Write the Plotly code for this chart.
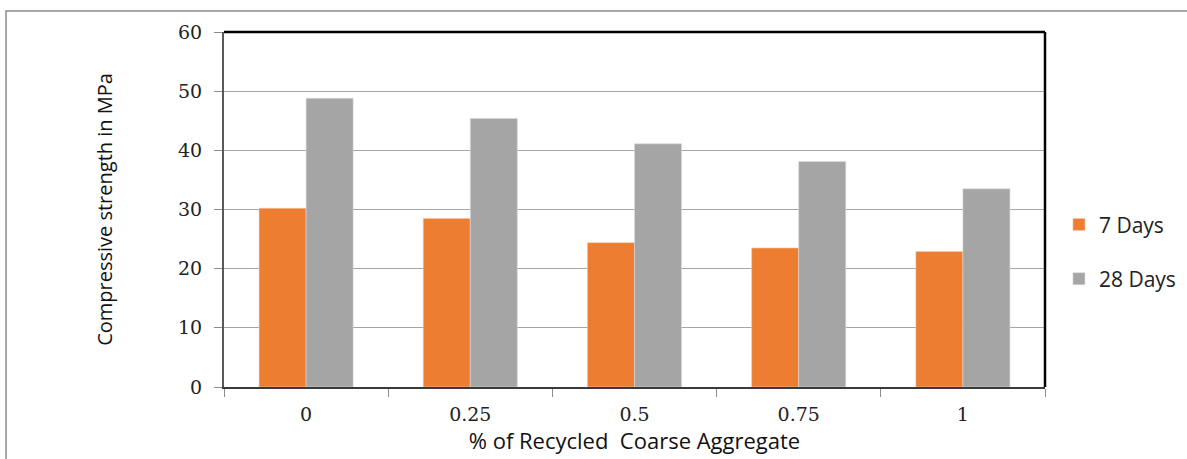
import plotly.graph_objects as go

# Replacement level of recycled coarse aggregate
categories = ["0", "0.25", "0.5", "0.75", "1"]
# Compressive strength (MPa)
strength_7_days = [30.2, 28.5, 24.4, 23.5, 22.9]
strength_28_days = [48.8, 45.4, 41.1, 38.1, 33.5]
y_ticks = [0, 10, 20, 30, 40, 50, 60]

ORANGE = "#ED7D31"
GREY = "#A5A5A5"
SANS = "Open Sans, Noto Sans, sans-serif"
SERIF = "DejaVu Serif, Liberation Serif, serif"

fig = go.Figure()
fig.add_trace(go.Bar(
    x=categories, y=strength_7_days, name="7 Days",
    marker=dict(color=ORANGE, line=dict(color="#F2C9AE", width=0.6)),
    legendgroup="a",
))
fig.add_trace(go.Bar(
    x=categories, y=strength_28_days, name="28 Days",
    marker=dict(color=GREY, line=dict(color="#DADADA", width=0.6)),
    legendgroup="b",
))

fig.update_layout(
    width=1187, height=459,
    margin=dict(l=224, r=142, t=32, b=72, autoexpand=False),
    paper_bgcolor="white", plot_bgcolor="white",
    barmode="group", bargap=0.427, bargroupgap=0,
    showlegend=True,
    legend=dict(
        x=1.017, y=0.381, xanchor="left", yanchor="middle",
        font=dict(family=SANS, size=21, color="#222222"),
        traceorder="grouped", tracegroupgap=24,
        itemwidth=30,
    ),
    xaxis=dict(
        type="category",
        tickson="boundaries", ticks="outside", ticklen=8, tickcolor="#8C8C8C",
        showline=True, linecolor="#3A3A3A", linewidth=2,
        tickfont=dict(family=SERIF, size=19, color="#222222"),
        ticklabelstandoff=9,
        title=dict(text="% of Recycled  Coarse Aggregate",
                   font=dict(family=SANS, size=22, color="#111111"), standoff=6),
        showgrid=False,
    ),
    yaxis=dict(
        range=[0, 60], tickvals=y_ticks,
        ticks="outside", ticklen=8, tickcolor="#8C8C8C",
        showline=True, linecolor="#595959", linewidth=2,
        showgrid=True, gridcolor="#A6A6A6", gridwidth=1.2,
        zeroline=False,
        tickfont=dict(family=SERIF, size=19, color="#222222"),
        ticklabelstandoff=8,
        title=dict(text="Compressive strength in MPa",
                   font=dict(family=SANS, size=20, color="#111111"), standoff=60),
    ),
    shapes=[
        # outer frame of the chart
        dict(type="rect", xref="paper", yref="paper",
             x0=-0.2655, x1=1.4, y0=-0.5, y1=1.059,
             line=dict(color="#8C8C8C", width=1.5), layer="below"),
        # top and right edges of the plot area
        dict(type="line", xref="paper", yref="paper", x0=0, x1=1, y0=1, y1=1,
             line=dict(color="black", width=2.5)),
        dict(type="line", xref="paper", yref="paper", x0=1, x1=1, y0=0, y1=1,
             line=dict(color="black", width=2.5)),
    ],
)

fig.write_html("out.html")
